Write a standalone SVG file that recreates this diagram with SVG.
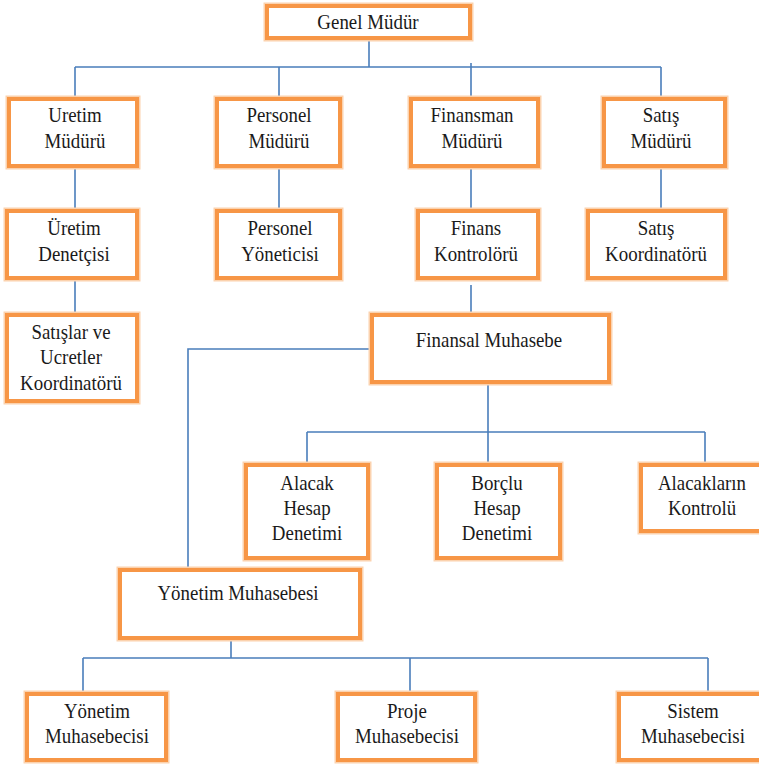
<svg xmlns="http://www.w3.org/2000/svg" width="759" height="765" viewBox="0 0 759 765">
  <style>
    .box { fill: #ffffff; stroke: #F79646; stroke-width: 4; }
    .halo { fill: none; stroke: #FBD2AE; stroke-width: 7; }
    .lbl { font-family: "Liberation Serif", "Times New Roman", Times, Tinos, "Noto Serif", "DejaVu Serif", FreeSerif, serif; font-size: 21px; fill: #1a1a1a; text-anchor: middle; }
    .wire { fill: none; stroke: #4A7EBB; stroke-width: 1.6; }
  </style>

  <rect width="759" height="765" fill="#ffffff"/>

  <!-- connectors -->
  <g id="connectors" class="wire">
    <path d="M369 40V67M75 67H661M75 67V97M279 67V97M471 63V97M661 67V97"/>
    <path d="M75 168V209M279 168V209M471 168V209M661 168V209"/>
    <path d="M75 280V313M471 285V313"/>
    <path d="M370 349H188V568"/>
    <path d="M488 384V463M307 432H705M307 432V463M705 432V463"/>
    <path d="M231 640V658M83 658H708M83 658V692M410 658V692M708 658V692"/>
  </g>

  <!-- level 0 -->
  <g id="genel-mudur">
    <rect class="halo" x="267" y="6" width="203" height="32"/>
    <rect class="box" x="267" y="6" width="203" height="32"/>
    <g transform="translate(368 29) scale(0.9 1)"><text class="lbl" font-family="Liberation Serif, serif">Genel Müdür</text></g>
  </g>

  <!-- level 1 -->
  <g id="uretim-muduru">
    <rect class="halo" x="9" y="99" width="128" height="67"/>
    <rect class="box" x="9" y="99" width="128" height="67"/>
    <g transform="translate(75 122) scale(0.9 1)"><text class="lbl"><tspan x="0">Uretim</tspan><tspan x="0" dy="26">Müdürü</tspan></text></g>
  </g>
  <g id="personel-muduru">
    <rect class="halo" x="217" y="99" width="123" height="67"/>
    <rect class="box" x="217" y="99" width="123" height="67"/>
    <g transform="translate(279 122) scale(0.9 1)"><text class="lbl"><tspan x="0">Personel</tspan><tspan x="0" dy="26">Müdürü</tspan></text></g>
  </g>
  <g id="finansman-muduru">
    <rect class="halo" x="411" y="99" width="127" height="67"/>
    <rect class="box" x="411" y="99" width="127" height="67"/>
    <g transform="translate(472 122) scale(0.9 1)"><text class="lbl"><tspan x="0">Finansman</tspan><tspan x="0" dy="26">Müdürü</tspan></text></g>
  </g>
  <g id="satis-muduru">
    <rect class="halo" x="604" y="99" width="121" height="67"/>
    <rect class="box" x="604" y="99" width="121" height="67"/>
    <g transform="translate(661 122) scale(0.9 1)"><text class="lbl"><tspan x="0">Satış</tspan><tspan x="0" dy="26">Müdürü</tspan></text></g>
  </g>

  <!-- level 2 -->
  <g id="uretim-denetcisi">
    <rect class="halo" x="7" y="211" width="130" height="67"/>
    <rect class="box" x="7" y="211" width="130" height="67"/>
    <g transform="translate(74 235) scale(0.9 1)"><text class="lbl"><tspan x="0">Üretim</tspan><tspan x="0" dy="26">Denetçisi</tspan></text></g>
  </g>
  <g id="personel-yoneticisi">
    <rect class="halo" x="217" y="211" width="123" height="67"/>
    <rect class="box" x="217" y="211" width="123" height="67"/>
    <g transform="translate(280 235) scale(0.9 1)"><text class="lbl"><tspan x="0">Personel</tspan><tspan x="0" dy="26">Yöneticisi</tspan></text></g>
  </g>
  <g id="finans-kontroloru">
    <rect class="halo" x="418" y="211" width="120" height="67"/>
    <rect class="box" x="418" y="211" width="120" height="67"/>
    <g transform="translate(476 235) scale(0.9 1)"><text class="lbl"><tspan x="0">Finans</tspan><tspan x="0" dy="26">Kontrolörü</tspan></text></g>
  </g>
  <g id="satis-koordinatoru">
    <rect class="halo" x="588" y="211" width="137" height="67"/>
    <rect class="box" x="588" y="211" width="137" height="67"/>
    <g transform="translate(656 235) scale(0.9 1)"><text class="lbl"><tspan x="0">Satış</tspan><tspan x="0" dy="26">Koordinatörü</tspan></text></g>
  </g>

  <!-- level 3 -->
  <g id="satislar-ucretler-koordinatoru">
    <rect class="halo" x="7" y="315" width="130" height="86"/>
    <rect class="box" x="7" y="315" width="130" height="86"/>
    <g transform="translate(71 339) scale(0.9 1)"><text class="lbl"><tspan x="0">Satışlar ve</tspan><tspan x="0" dy="25.5">Ucretler</tspan><tspan x="0" dy="25.5">Koordinatörü</tspan></text></g>
  </g>
  <g id="finansal-muhasebe">
    <rect class="halo" x="372" y="315" width="237" height="67"/>
    <rect class="box" x="372" y="315" width="237" height="67"/>
    <g transform="translate(489 347) scale(0.9 1)"><text class="lbl">Finansal Muhasebe</text></g>
  </g>

  <!-- financial accounting units -->
  <g id="alacak-hesap-denetimi">
    <rect class="halo" x="246" y="465" width="122" height="93"/>
    <rect class="box" x="246" y="465" width="122" height="93"/>
    <g transform="translate(307 490) scale(0.9 1)"><text class="lbl"><tspan x="0">Alacak</tspan><tspan x="0" dy="25">Hesap</tspan><tspan x="0" dy="25">Denetimi</tspan></text></g>
  </g>
  <g id="borclu-hesap-denetimi">
    <rect class="halo" x="437" y="465" width="123" height="93"/>
    <rect class="box" x="437" y="465" width="123" height="93"/>
    <g transform="translate(497 490) scale(0.9 1)"><text class="lbl"><tspan x="0">Borçlu</tspan><tspan x="0" dy="25">Hesap</tspan><tspan x="0" dy="25">Denetimi</tspan></text></g>
  </g>
  <g id="alacaklarin-kontrolu">
    <rect class="halo" x="641" y="465" width="124" height="66"/>
    <rect class="box" x="641" y="465" width="124" height="66"/>
    <g transform="translate(702 490) scale(0.9 1)"><text class="lbl"><tspan x="0">Alacakların</tspan><tspan x="0" dy="25">Kontrolü</tspan></text></g>
  </g>

  <!-- management accounting -->
  <g id="yonetim-muhasebesi">
    <rect class="halo" x="120" y="570" width="240" height="68"/>
    <rect class="box" x="120" y="570" width="240" height="68"/>
    <g transform="translate(238 600) scale(0.9 1)"><text class="lbl">Yönetim Muhasebesi</text></g>
  </g>
  <g id="yonetim-muhasebecisi">
    <rect class="halo" x="27" y="694" width="139" height="66"/>
    <rect class="box" x="27" y="694" width="139" height="66"/>
    <g transform="translate(97 718) scale(0.9 1)"><text class="lbl"><tspan x="0">Yönetim</tspan><tspan x="0" dy="25">Muhasebecisi</tspan></text></g>
  </g>
  <g id="proje-muhasebecisi">
    <rect class="halo" x="338" y="694" width="137" height="66"/>
    <rect class="box" x="338" y="694" width="137" height="66"/>
    <g transform="translate(407 718) scale(0.9 1)"><text class="lbl"><tspan x="0">Proje</tspan><tspan x="0" dy="25">Muhasebecisi</tspan></text></g>
  </g>
  <g id="sistem-muhasebecisi">
    <rect class="halo" x="619" y="694" width="146" height="66"/>
    <rect class="box" x="619" y="694" width="146" height="66"/>
    <g transform="translate(693 718) scale(0.9 1)"><text class="lbl"><tspan x="0">Sistem</tspan><tspan x="0" dy="25">Muhasebecisi</tspan></text></g>
  </g>
</svg>
